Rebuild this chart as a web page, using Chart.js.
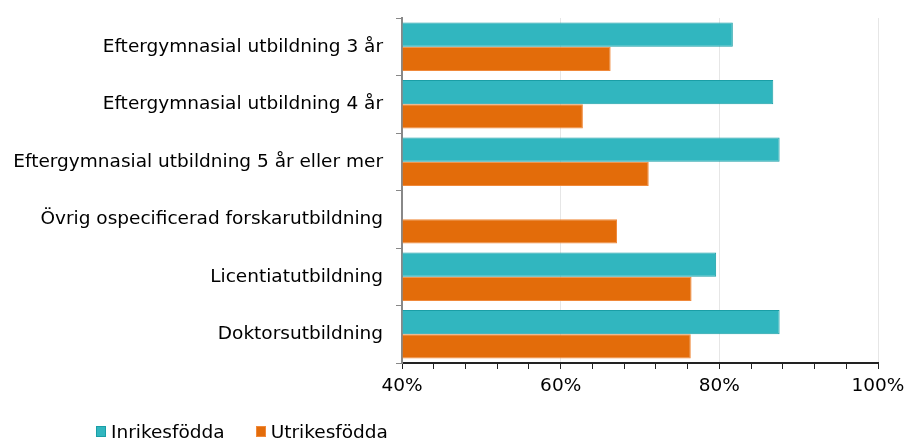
<!DOCTYPE html>
<html lang="sv">
<head>
<meta charset="UTF-8">
<title>Inrikes- och utrikesfödda</title>
<script src="https://cdn.jsdelivr.net/npm/chart.js"></script>
<style>
    body { margin: 0; background: #fff; font-family: "DejaVu Sans", Verdana, sans-serif; overflow: hidden; }
    #wrap { position: relative; width: 909px; height: 440px; }
    #legend { position: absolute; left: 96px; top: 421px; display: flex; font-size: 18.5px; line-height: 21px; color: #000; }
    #legend span.item { display: flex; align-items: center; margin-right: 31px; }
    #legend span.box { width: 10px; height: 11px; margin-right: 5px; box-sizing: border-box; border: 1px solid; }
</style>
</head>
<body>
<div id="wrap">
    <canvas id="chart" width="909" height="440"></canvas>
    <div id="legend"></div>
</div>
<script>
const categories = [
    'Eftergymnasial utbildning 3 år',
    'Eftergymnasial utbildning 4 år',
    'Eftergymnasial utbildning 5 år eller mer',
    'Övrig ospecificerad forskarutbildning',
    'Licentiatutbildning',
    'Doktorsutbildning'
];
const inrikes = [81.7, 86.8, 87.6, null, 79.6, 87.6];
const utrikes = [66.3, 62.8, 71.1, 67.1, 76.5, 76.4];
const seriesNames = ['Inrikesfödda', 'Utrikesfödda'];
const xTicks = [40, 60, 80, 100];

const tealFill = '#31B6BF';
const tealLine = '#1A9EA6';
const orangeFill = '#E36C0A';
const orangeLine = '#F0893A';

const font = { family: '"DejaVu Sans", Verdana, sans-serif', size: 18.5 };

const chart = new Chart(document.getElementById('chart'), {
    type: 'bar',
    data: {
        labels: categories,
        datasets: [
            { label: seriesNames[0], data: inrikes, backgroundColor: tealFill, borderColor: tealLine, borderWidth: 1, base: 40 },
            { label: seriesNames[1], data: utrikes, backgroundColor: orangeFill, borderColor: orangeLine, borderWidth: 1, base: 40 }
        ]
    },
    options: {
        indexAxis: 'y',
        responsive: false,
        animation: false,
        categoryPercentage: 0.84,
        barPercentage: 1.0,
        layout: { padding: { top: 18, right: 31, left: 0, bottom: 0 } },
        plugins: { legend: { display: false }, tooltip: { enabled: false } },
        scales: {
            x: {
                min: 40,
                max: 100,
                ticks: {
                    stepSize: 4,
                    autoSkip: false,
                    maxRotation: 0,
                    padding: 6,
                    color: '#000',
                    font: font,
                    callback: v => xTicks.includes(v) ? v + '%' : ''
                },
                grid: {
                    color: c => (c.tick && xTicks.includes(c.tick.value) && c.tick.value !== 40) ? '#e6e6e6' : 'rgba(0,0,0,0)',
                    tickColor: '#222',
                    tickLength: 6,
                    lineWidth: 1
                },
                border: { color: '#222', width: 2 },
                afterFit: s => { s.height = 77; s.paddingLeft = 0; s.paddingRight = 0; }
            },
            y: {
                ticks: { color: '#000', font: font, padding: 13 },
                grid: { drawOnChartArea: false, tickColor: '#888', tickLength: 6, offset: true },
                border: { color: '#888', width: 2 },
                afterFit: s => { s.width = 402; s.paddingTop = 0; s.paddingBottom = 0; }
            }
        }
    }
});

// legend as html
const legend = document.getElementById('legend');
[[seriesNames[0], tealFill, tealLine], [seriesNames[1], orangeFill, orangeLine]].forEach(([name, fill, line]) => {
    const item = document.createElement('span');
    item.className = 'item';
    item.innerHTML = '<span class="box" style="background:' + fill + ';border-color:' + line + '"></span>' + name;
    legend.appendChild(item);
});
</script>
</body>
</html>
